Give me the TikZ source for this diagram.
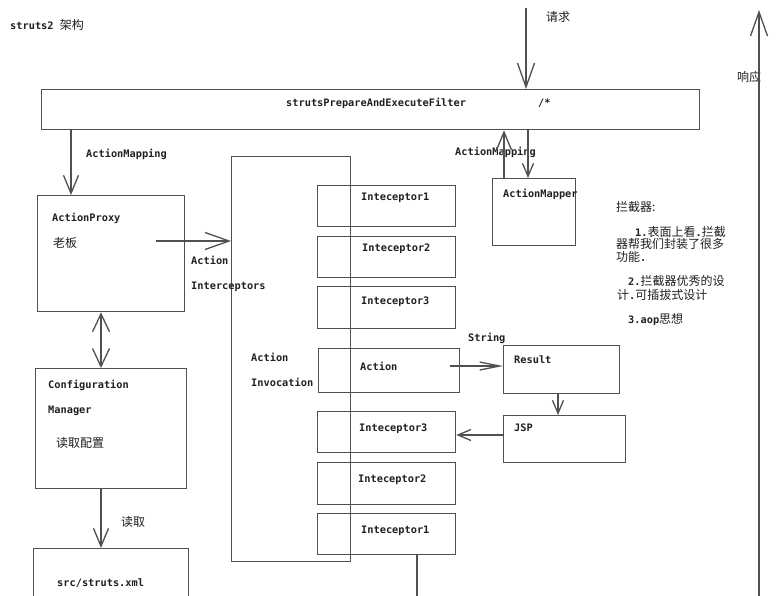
\documentclass[tikz,border=0pt]{standalone}
\usepackage{fontspec}
\setmonofont{DejaVu Sans Mono}
\newfontfamily\cjk{Noto Sans CJK SC}
\usetikzlibrary{arrows.meta,calc}
\definecolor{linec}{HTML}{505050}
\definecolor{txt}{HTML}{202020}
\newcommand\monob[1]{{\ttfamily\bfseries\fontsize{10.3}{12}\selectfont #1}}
\begin{document}
\begin{tikzpicture}[x=1pt,y=-1pt,
  box/.style={draw=linec, line width=1.3pt, inner sep=0pt, anchor=north west},
  mono/.style={font=\ttfamily\bfseries\fontsize{10.3}{12}\selectfont, inner sep=0pt, anchor=base west, text=txt},
  zh/.style={font=\cjk\fontsize{12}{14}\selectfont, inner sep=0pt, anchor=base west, text=txt},
  ln/.style={draw=linec, line width=1.3pt},
  arrB/.style={ln, -{Straight Barb[length=24pt, width=17pt]}},
  arrM/.style={ln, -{Straight Barb[length=18pt, width=15pt]}},
  arrS/.style={ln, -{Straight Barb[length=13pt, width=11pt]}},
  arrN/.style={ln, -{Straight Barb[length=20pt, width=8pt]}},
  arrD/.style={ln, {Straight Barb[length=18pt, width=17pt]}-{Straight Barb[length=18pt, width=17pt]}}
]
\useasboundingbox (0,0) rectangle (778,596);
\clip (0,0) rectangle (778,596);
\fill[white] (0,0) rectangle (778,596);

% title
\node[mono] (title) at (10,30) {struts2 {\cjk\mdseries\fontsize{12}{14}\selectfont 架构}};

% boxes
\node[box, minimum width=658pt, minimum height=40pt] (filter) at (41,89) {};
\node[box, minimum width=147pt, minimum height=116pt] (proxy) at (37,195) {};
\node[box, minimum width=151pt, minimum height=120pt] (config) at (35,368) {};
\node[box, minimum width=155pt, minimum height=62pt] (xml) at (33,548) {};
\node[box, minimum width=119pt, minimum height=405pt] (inv) at (231,156) {};
\node[box, minimum width=138pt, minimum height=41pt] (i1) at (317,185) {};
\node[box, minimum width=138pt, minimum height=41pt] (i2) at (317,236) {};
\node[box, minimum width=138pt, minimum height=42pt] (i3) at (317,286) {};
\node[box, minimum width=141pt, minimum height=44pt] (act) at (318,348) {};
\node[box, minimum width=138pt, minimum height=41pt] (i3b) at (317,411) {};
\node[box, minimum width=138pt, minimum height=42pt] (i2b) at (317,462) {};
\node[box, minimum width=138pt, minimum height=41pt] (i1b) at (317,513) {};
\node[box, minimum width=83pt, minimum height=67pt] (mapper) at (492,178) {};
\node[box, minimum width=116pt, minimum height=48pt] (result) at (503,345) {};
\node[box, minimum width=122pt, minimum height=47pt] (jsp) at (503,415) {};

% texts
\node[mono] (tfilter) at (286,107) {strutsPrepareAndExecuteFilter};
\node[mono] (tslash) at (538,107) {/*};
\node[zh] (treq) at (546,22) {请求};
\node[zh] (tresp) at (737,82) {响应};
\node[mono] (tmap1) at (86,158) {ActionMapping};
\node[mono] (tmap2) at (455,156) {ActionMapping};
\node[mono] (tmapper) at (503,197) {ActionMapper};
\node[mono] (tproxy) at (52,221) {ActionProxy};
\node[zh] (tboss) at (53,247) {老板};
\node[mono] (tai1) at (191,264) {Action};
\node[mono] (tai2) at (191,289) {Interceptors};
\node[mono] (ti1) at (361,200) {Inteceptor1};
\node[mono] (ti2) at (362,251) {Inteceptor2};
\node[mono] (ti3) at (361,304) {Inteceptor3};
\node[mono] (tact) at (360,370) {Action};
\node[mono] (tinv1) at (251,361) {Action};
\node[mono] (tinv2) at (251,386) {Invocation};
\node[mono] (ti3b) at (359,431) {Inteceptor3};
\node[mono] (ti2b) at (358,482) {Inteceptor2};
\node[mono] (ti1b) at (361,533) {Inteceptor1};
\node[mono] (tstring) at (468,341) {String};
\node[mono] (tresult) at (514,363) {Result};
\node[mono] (tjsp) at (514,431) {JSP};
\node[mono] (tconf1) at (48,388) {Configuration};
\node[mono] (tconf2) at (48,413) {Manager};
\node[zh] (tread) at (56,447) {读取配置};
\node[zh] (tread2) at (121,526) {读取};
\node[mono] (txml) at (57,586) {src/struts.xml};

% notes
\node[zh] (n0) at (616,211) {拦截器:};
\node[zh] (n1) at (635,236) {\monob{1.}表面上看\monob{.}拦截};
\node[zh] (n2) at (616,248) {器帮我们封装了很多};
\node[zh] (n3) at (616,261) {功能\monob{.}};
\node[zh] (n4) at (628,285) {\monob{2.}拦截器优秀的设};
\node[zh] (n5) at (617,299) {计\monob{.}可插拔式设计};
\node[zh] (n6) at (628,323) {\monob{3.aop}思想};

% connectors
\coordinate (reqtop) at (526,8);
\draw[arrB] (reqtop) -- (filter.north -| reqtop);
\coordinate (resbot) at (759,600);
\coordinate (restop) at (759,10);
\draw[arrB] (resbot) -- (restop);
\draw[arrM] (filter.south -| 71,0) -- (proxy.north -| 71,0);
\coordinate (pstart) at (156,241);
\draw[arrB] (pstart) -- (inv.west |- pstart);
\draw[arrD] (proxy.south -| 101,0) -- (config.north -| 101,0);
\draw[arrM] (config.south -| 101,0) -- (xml.north -| 101,0);
\draw[arrM] (mapper.north -| 504,0) -- (filter.south -| 504,0);
\draw[arrS] (filter.south -| 528,0) -- (mapper.north -| 528,0);
\coordinate (astart) at (450,366);
\draw[arrN] (astart) -- (result.west |- astart);
\draw[arrS] (result.south -| 558,0) -- (jsp.north -| 558,0);
\coordinate (jstart) at (505,435);
\draw[arrS] (jsp.west |- jstart) -- (i3b.east |- jstart);
\coordinate (i1end) at (417,600);
\draw[ln] (i1b.south -| i1end) -- (i1end);
\end{tikzpicture}
\end{document}
